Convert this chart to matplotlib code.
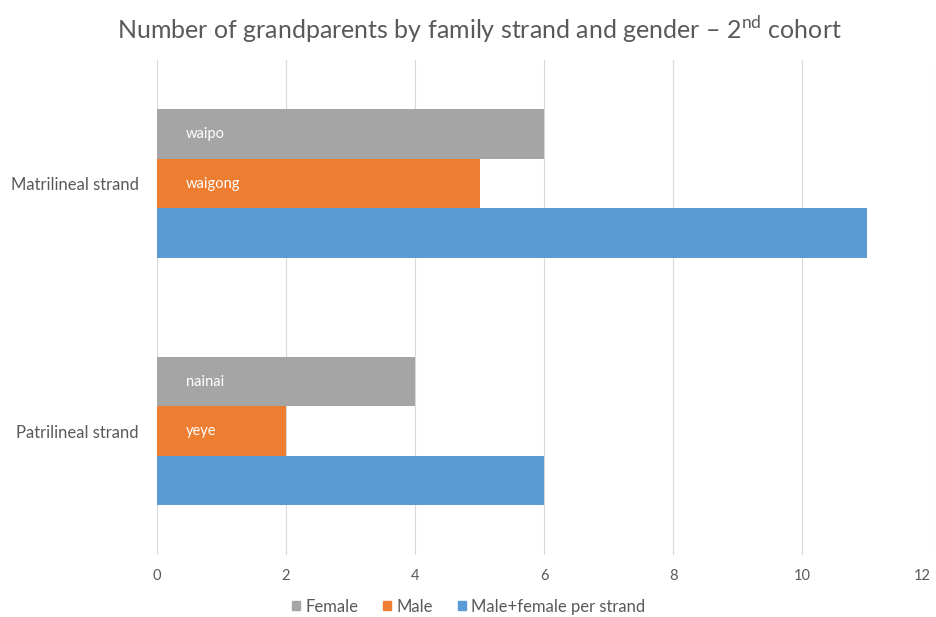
import numpy as np
import matplotlib.pyplot as plt
import matplotlib.transforms as mtransforms
from matplotlib.patches import Patch

plt.rcParams['font.family'] = ['Lato', 'DejaVu Sans']
plt.rcParams['mathtext.fontset'] = 'custom'
plt.rcParams['mathtext.rm'] = 'Lato'

# data
strands = ['Patrilineal strand', 'Matrilineal strand']
female = [4, 6]
male = [2, 5]
total = [6, 11]
female_names = ['nainai', 'waipo']
male_names = ['yeye', 'waigong']

grey = '#A5A5A5'
orange = '#ED7D31'
blue = '#5B9BD5'
txt = '#595959'

fig = plt.figure(figsize=(9.37, 6.17), dpi=100)
ax = fig.add_axes([0.1676, 0.1005, 0.826, 0.8023])

y = np.arange(len(strands))
h = 0.2
ax.barh(y + h, female, height=h, color=grey, zorder=3)
ax.barh(y, male, height=h, color=orange, zorder=3)
ax.barh(y - h, total, height=h, color=blue, zorder=3)

# names written inside the bars
for i in range(len(strands)):
    ax.text(0.45, y[i] + h, female_names[i], color='white', fontsize=10.5,
            va='center', ha='left', zorder=4)
    ax.text(0.45, y[i], male_names[i], color='white', fontsize=10.5,
            va='center', ha='left', zorder=4)

ax.set_xlim(0, 12)
ax.set_ylim(-0.5, 1.5)
ax.set_xticks(range(0, 13, 2))
ax.set_yticks(y)
ax.set_yticklabels(strands)
ax.tick_params(length=0, colors=txt)
ax.tick_params(axis='x', pad=10, labelsize=10.5)
ax.tick_params(axis='y', pad=13, labelsize=12)
ax.grid(axis='x', color='#D9D9D9', linewidth=0.8, zorder=0)
for s in ax.spines.values():
    s.set_visible(False)

# keep the last tick label inside the figure edge
last = ax.get_xticklabels()[-1]
last.set_transform(last.get_transform() +
                   mtransforms.ScaledTranslation(-6 / 72, 0, fig.dpi_scale_trans))

fig.text(0.512, 0.952, r'Number of grandparents by family strand and gender – 2$^{\mathrm{nd}}$ cohort',
         ha='center', va='center', fontsize=18, color=txt)

handles = [Patch(color=grey, label='Female'),
           Patch(color=orange, label='Male'),
           Patch(color=blue, label='Male+female per strand')]
fig.legend(handles=handles, loc='center', bbox_to_anchor=(0.50, 0.017), ncol=3,
           frameon=False, fontsize=12, labelcolor=txt, handlelength=0.5,
           handleheight=0.5, handletextpad=0.3, columnspacing=1.5)

fig.savefig('out.png', dpi=100)
